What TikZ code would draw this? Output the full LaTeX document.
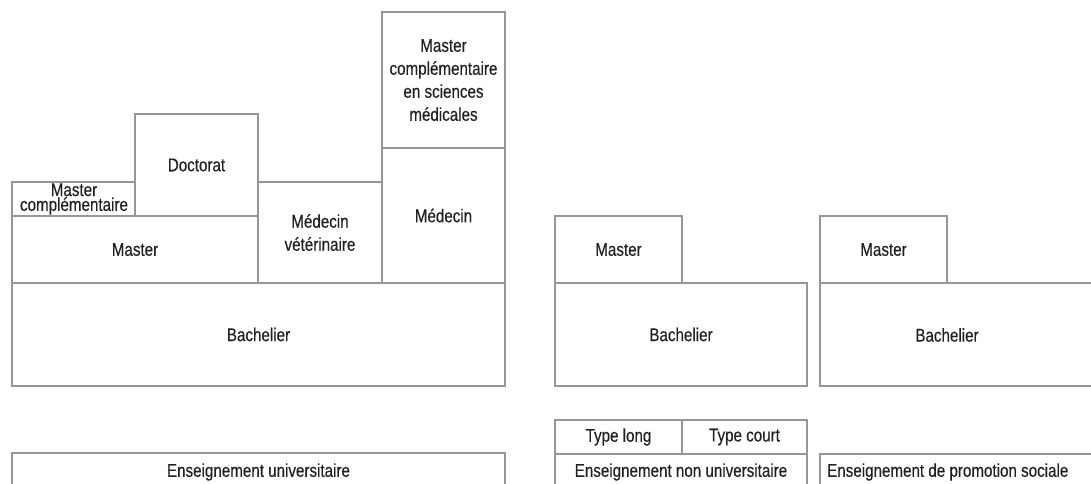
\documentclass[tikz,border=0pt]{standalone}
\usepackage{fontspec}
\setmainfont{Liberation Sans}[FakeStretch=0.82,FakeBold=0.35]
\definecolor{boxline}{RGB}{150,150,150}
\definecolor{ink}{RGB}{35,31,32}
\tikzset{
  box/.style={draw=boxline, line width=2.7pt, rectangle, inner sep=0pt, outer sep=0pt,
    anchor=north west, align=center, text=ink, font=\fontsize{18.5}{23}\selectfont},
  lbl/.style={inner sep=0pt, text=ink, align=center, font=\fontsize{18.5}{23}\selectfont}
}
\begin{document}
\begin{tikzpicture}[x=1pt,y=-1pt]
\useasboundingbox (0,0) rectangle (1091,483);
\clip (0,0) rectangle (1091,483);
% university block
\node[box, minimum width=123pt, minimum height=34pt] (mc) at (12,182) {};
\node[lbl, font=\fontsize{18.5}{12.5}\selectfont] (mct) at (74,199) {Master\\complémentaire};
\node[box, minimum width=123pt, minimum height=102pt] (doc) at (135,114) {Doctorat};
\node[box, minimum width=246pt, minimum height=67pt] (mas) at (12,216) {Master};
\node[box, minimum width=124pt, minimum height=101pt] (vet) at (258,182) {Médecin\\vétérinaire};
\node[box, minimum width=123pt, minimum height=135pt] (med) at (382,148) {Médecin};
\node[box, minimum width=123pt, minimum height=136pt] (mcs) at (382,12)
  {Master\\complémentaire\\en sciences\\médicales};
\node[box, minimum width=493pt, minimum height=103pt] (bac1) at (12,283) {Bachelier};
\node[box, minimum width=493pt, minimum height=38pt] (eu) at (12,453) {Enseignement universitaire};
% non-university block
\node[box, minimum width=127pt, minimum height=67pt] (mas2) at (555,216) {Master};
\node[box, minimum width=252pt, minimum height=103pt] (bac2) at (555,283) {Bachelier};
\node[box, minimum width=127pt, minimum height=34pt] (tl) at (555,420) {Type long};
\node[box, minimum width=125pt, minimum height=34pt] (tc) at (682,420) {Type court};
\node[box, minimum width=252pt, minimum height=36pt] (enu) at (555,454) {Enseignement non universitaire};
% social promotion block
\node[box, minimum width=127pt, minimum height=67pt] (mas3) at (820,216) {Master};
\node[box, minimum width=290pt, minimum height=103pt] (bac3) at (820,283) {};
\node[lbl] (bac3t) at (947,335) {Bachelier};
\node[box, minimum width=290pt, minimum height=36pt] (eps) at (820,454) {};
\node[lbl, anchor=west] (epst) at (827,472) {Enseignement de promotion sociale};
\end{tikzpicture}
\end{document}
